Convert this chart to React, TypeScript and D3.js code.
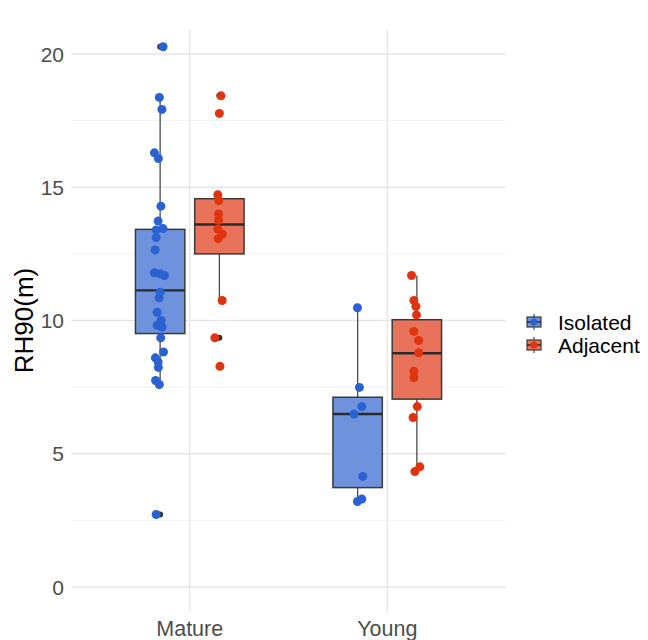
import React from "react";
import * as d3 from "d3";

const categories = ["Mature", "Young"];
const groups = ["Isolated", "Adjacent"];
const yTicks = [0, 5, 10, 15, 20];

// Box statistics, order: Mature-Isolated, Mature-Adjacent, Young-Isolated, Young-Adjacent
const boxQ1 = [9.51, 12.5, 3.73, 7.05];
const boxMedian = [11.13, 13.6, 6.49, 8.77];
const boxQ3 = [13.42, 14.57, 7.12, 10.03];
const boxLow = [7.6, 10.75, 3.21, 4.33];
const boxHigh = [18.37, 14.72, 10.48, 11.69];

// Observations (RH90 in m) and their jitter (category units)
const matureIsolated = [20.27, 18.37, 17.92, 16.29, 16.08, 14.29, 13.73, 13.45, 13.4, 13.11, 12.65, 11.79, 11.75, 11.69, 11.06, 10.85, 10.31, 10.0, 9.82, 9.75, 9.35, 8.82, 8.6, 8.45, 8.24, 7.75, 7.6, 2.72];
const matureIsolatedJitter = [0.015, -0.004, 0.009, -0.029, -0.009, 0.004, -0.01, 0.015, -0.02, -0.02, -0.025, -0.029, 0, 0.022, 0, -0.005, -0.015, 0.005, -0.015, 0.01, 0.003, 0.017, -0.024, -0.01, -0.009, -0.023, -0.004, -0.02];
const matureAdjacent = [18.43, 17.77, 14.72, 14.5, 14.0, 13.76, 13.43, 13.24, 13.07, 10.75, 9.35, 8.28];
const matureAdjacentJitter = [0.008, 0, -0.008, -0.003, -0.004, -0.004, -0.008, 0.015, -0.006, 0.014, -0.023, 0.003];
const youngIsolated = [10.48, 7.49, 6.77, 6.49, 4.15, 3.21, 3.3];
const youngIsolatedJitter = [-0.001, 0.009, 0.021, -0.018, 0.026, -0.001, 0.021];
const youngAdjacent = [11.69, 10.75, 10.53, 10.21, 9.59, 9.25, 8.79, 8.1, 7.85, 6.77, 6.36, 4.51, 4.33];
const youngAdjacentJitter = [-0.027, -0.015, -0.005, -0.002, -0.015, 0.009, 0.009, -0.015, -0.015, 0.002, -0.019, 0.015, -0.01];

const pointColors = ["#2A62D2", "#E0340F"];
const boxColors = ["#6E92DB", "#E8735A"];

const W = 648;
const H = 640;

export default function App() {
  const x = d3.scaleLinear().domain([0.4, 2.6]).range([71.25, 505.75]);
  const y = d3.scaleLinear().domain([0, 20]).range([587, 54]);
  const dodge = 0.15;
  const boxW = 0.25;

  const series = [
    { cat: 0, grp: 0, vals: matureIsolated, jit: matureIsolatedJitter },
    { cat: 0, grp: 1, vals: matureAdjacent, jit: matureAdjacentJitter },
    { cat: 1, grp: 0, vals: youngIsolated, jit: youngIsolatedJitter },
    { cat: 1, grp: 1, vals: youngAdjacent, jit: youngAdjacentJitter },
  ];

  const minor = d3.range(2.5, 20, 5);
  const font = "Liberation Sans, Arial, sans-serif";
  const px = (s: (typeof series)[number]) => s.cat + 1 + (s.grp === 0 ? -dodge : dodge);
  const xl = x(0.4), xr = x(2.6);

  return (
    <svg width={W} height={H} style={{ position: "absolute", left: 0, top: 0, background: "#fff" }} fontFamily={font}>
      {/* grid */}
      {minor.map((v) => (
        <line key={"mn" + v} x1={xl} x2={xr} y1={y(v)} y2={y(v)} stroke="#f2f2f2" strokeWidth={1} />
      ))}
      {yTicks.map((v) => (
        <line key={"mj" + v} x1={xl} x2={xr} y1={y(v)} y2={y(v)} stroke="#e6e6e6" strokeWidth={1.3} />
      ))}
      {categories.map((c, i) => (
        <line key={"vx" + c} x1={x(i + 1)} x2={x(i + 1)} y1={30} y2={612} stroke="#e6e6e6" strokeWidth={1.3} />
      ))}

      {/* boxplots */}
      {series.map((s, k) => {
        const cx = x(px(s));
        const half = (x(boxW) - x(0)) / 2;
        const outliers = s.vals.filter((v) => v > boxHigh[k] + 1e-9 || v < boxLow[k] - 1e-9);
        return (
          <g key={"box" + k}>
            <line x1={cx} x2={cx} y1={y(boxHigh[k])} y2={y(boxQ3[k])} stroke="#4a4a4a" strokeWidth={1.3} />
            <line x1={cx} x2={cx} y1={y(boxQ1[k])} y2={y(boxLow[k])} stroke="#4a4a4a" strokeWidth={1.3} />
            <rect x={cx - half} y={y(boxQ3[k])} width={half * 2} height={y(boxQ1[k]) - y(boxQ3[k])} fill={boxColors[s.grp]} stroke="#3a3a3a" strokeWidth={1.5} />
            <line x1={cx - half} x2={cx + half} y1={y(boxMedian[k])} y2={y(boxMedian[k])} stroke="#2a2a2a" strokeWidth={2.4} />
            {outliers.map((v, j) => (
              <circle key={j} cx={cx} cy={y(v)} r={3} fill="#333" />
            ))}
          </g>
        );
      })}

      {/* jittered points */}
      {series.map((s, k) => (
        <g key={"pts" + k}>
          {s.vals.map((v, j) => (
            <circle key={j} cx={x(px(s) + s.jit[j])} cy={y(v)} r={4.5} fill={pointColors[s.grp]} />
          ))}
        </g>
      ))}

      {/* y axis */}
      {yTicks.map((v) => (
        <g key={"yt" + v}>
          <text x={64} y={y(v)} dy="0.36em" textAnchor="end" fontSize={21} fill="#4d4d4d">
            {v}
          </text>
        </g>
      ))}
      <text transform={`translate(33,${y(10)}) rotate(-90)`} textAnchor="middle" fontSize={26} fill="#000">
        RH90(m)
      </text>

      {/* x axis */}
      {categories.map((c, i) => (
        <text key={"xt" + c} x={x(i + 1)} y={636} textAnchor="middle" fontSize={21.5} fill="#4d4d4d">
          {c}
        </text>
      ))}

      {/* legend */}
      {groups.map((g, i) => {
        const cy = 322 + i * 23;
        const kx = 534;
        return (
          <g key={"lg" + g}>
            <line x1={kx} x2={kx} y1={cy - 8} y2={cy + 8} stroke="#4a4a4a" strokeWidth={1.2} />
            <rect x={kx - 7} y={cy - 5} width={14} height={10} fill={boxColors[i]} stroke="#3a3a3a" strokeWidth={1.2} />
            <line x1={kx - 7} x2={kx + 7} y1={cy} y2={cy} stroke="#2a2a2a" strokeWidth={1.5} />
            <circle cx={kx} cy={cy} r={3.5} fill={pointColors[i]} />
            <text x={558} y={cy} dy="0.36em" fontSize={21} fill="#000">
              {g}
            </text>
          </g>
        );
      })}
    </svg>
  );
}
